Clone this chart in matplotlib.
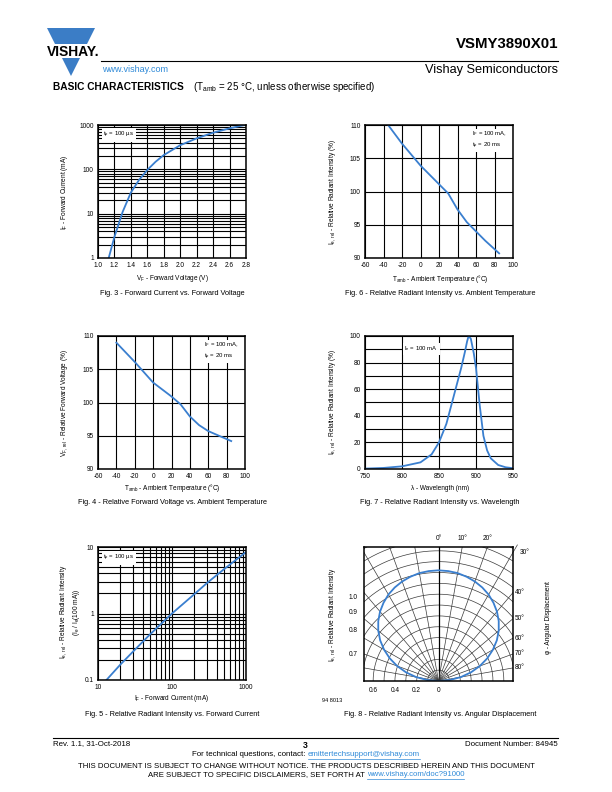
import numpy as np
import matplotlib
matplotlib.use("Agg")
import matplotlib.pyplot as plt
from matplotlib.patches import Polygon, Rectangle
from matplotlib.lines import Line2D
from matplotlib.ticker import LogLocator, NullFormatter, MultipleLocator

plt.rcParams['font.family'] = ['Liberation Sans', 'DejaVu Sans']
plt.rcParams['mathtext.fontset'] = 'custom'
plt.rcParams['mathtext.rm'] = 'Liberation Sans'
plt.rcParams['mathtext.it'] = 'Liberation Sans:italic'
plt.rcParams['mathtext.bf'] = 'Liberation Sans:bold'
plt.rcParams['axes.unicode_minus'] = False

# ---- data ----
# Fig. 3  forward current vs forward voltage
vf = [1.13, 1.2, 1.3, 1.4, 1.5, 1.6, 1.7, 1.8, 2.0, 2.2, 2.4, 2.6, 2.78]
i_f = [1, 3, 11, 30, 58, 97, 148, 210, 350, 500, 670, 840, 1000]

# Fig. 6  relative radiant intensity vs ambient temperature
t6 = [-35, -20, 0, 20, 30, 40, 50, 60, 70, 85]
ie6 = [110, 107.2, 103.9, 101.1, 99.7, 97.3, 95.4, 94.0, 92.6, 90.7]

# Fig. 4  relative forward voltage vs ambient temperature
t4 = [-40, -20, 0, 20, 30, 40, 50, 60, 70, 85]
vf4 = [109, 106.1, 103.0, 100.9, 99.7, 97.9, 96.6, 95.7, 95.1, 94.2]

# Fig. 7  relative radiant intensity vs wavelength
wl = [750, 775, 800, 825, 840, 850, 860, 870, 880, 885, 888, 890, 893,
      897, 900, 905, 910, 915, 920, 930, 940, 950]
ie7 = [0.3, 0.8, 2, 5, 11, 20, 34, 55, 76, 88, 96, 100, 98,
       87, 76, 48, 25, 14, 8, 3, 1.3, 0.6]

# Fig. 5  relative radiant intensity vs forward current
if5 = [13, 20, 30, 50, 100, 200, 300, 500, 1000]
ie5 = [0.1, 0.17, 0.27, 0.48, 1.0, 1.95, 2.9, 4.6, 8.4]

# Fig. 8  relative radiant intensity vs angular displacement
phi = [0, 5, 10, 15, 20, 25, 30, 35, 40, 45, 50, 55, 60, 65, 70, 75, 80, 85, 90]
ie8 = [1.02, 1.017, 1.01, 0.995, 0.976, 0.951, 0.92, 0.88, 0.835, 0.782,
       0.722, 0.654, 0.577, 0.494, 0.404, 0.309, 0.209, 0.105, 0.0]
phi_labels = [0, 10, 20, 30, 40, 50, 60, 70, 80]
r_labels = ['1.0', '0.9', '0.8', '0.7']

BLUE = '#3a7fcf'
LINK = '#2f8ad8'
W, H = 612, 792
fig = plt.figure(figsize=(W / 100, H / 100), dpi=100)
renderer = fig.canvas.get_renderer()


def box(x0, y0, x1, y1):
    return [x0 / W, 1 - y1 / H, (x1 - x0) / W, (y1 - y0) / H]


def txt(x, y, s, **kw):
    kw.setdefault('fontsize', 4.7)
    kw.setdefault('ha', 'center')
    kw.setdefault('va', 'center')
    return fig.text(x / W, 1 - y / H, s, **kw)


def hline(x0, x1, y, lw=0.8, color='black'):
    fig.add_artist(Line2D([x0 / W, x1 / W], [1 - y / H] * 2, color=color, lw=lw))


def run(xc, y, pieces, fs):
    # a line of text made of pieces (text, is_link), centred at xc
    widths = []
    for s, _ in pieces:
        t = txt(0, y, s, fontsize=fs, ha='left')
        widths.append(t.get_window_extent(renderer).width)
        t.remove()
    x = xc - sum(widths) / 2
    for (s, link), w in zip(pieces, widths):
        txt(x, y, s, fontsize=fs, ha='left', color=LINK if link else 'black')
        if link:
            hline(x, x + w, y + 3.5, lw=0.5, color=LINK)
        x += w


def style(ax):
    for sp in ax.spines.values():
        sp.set_linewidth(1.1)
    ax.tick_params(which='both', length=0, labelsize=4.7, pad=3)
    ax.grid(True, which='both', color='black', lw=0.8)
    ax.set_axisbelow(True)


def note(ax, x, y, s, ha='left'):
    ax.text(x, y, s, transform=ax.transAxes, fontsize=4.3, ha=ha, va='top',
            linespacing=1.3, bbox=dict(fc='white', ec='none', pad=1.2))


# ---- header ----
tri = [(47, 28), (95, 28), (71, 76)]
fig.add_artist(Polygon([(x / W, 1 - y / H) for x, y in tri], closed=True,
                       transform=fig.transFigure, fc='#3b7dc6', ec='none'))
fig.add_artist(Rectangle((40 / W, 1 - 58 / H), 65 / W, 14 / H,
                         transform=fig.transFigure, fc='white', ec='none'))
txt(47, 51.5, 'VISHAY.', ha='left', fontsize=10, weight='bold')
hline(101, 558, 61)
txt(558, 44, 'VSMY3890X01', ha='right', fontsize=10.8, weight='bold')
txt(102, 69, 'www.vishay.com', ha='left', fontsize=6.5, color=LINK)
txt(558, 70, 'Vishay Semiconductors', ha='right', fontsize=9.2)
txt(53, 87, 'BASIC CHARACTERISTICS', ha='left', fontsize=7.3, weight='bold')
txt(193, 87, r'(T$_\mathrm{amb}$ = 25 °C, unless otherwise specified)',
    ha='left', fontsize=7)

# ---- Fig. 3 ----
ax3 = fig.add_axes(box(98, 125, 246, 258))
ax3.semilogy(vf, i_f, color=BLUE, lw=1.3)
ax3.set_xlim(1.0, 2.8)
ax3.set_ylim(1, 1000)
ax3.set_xticks([1.0, 1.2, 1.4, 1.6, 1.8, 2.0, 2.2, 2.4, 2.6, 2.8])
ax3.xaxis.set_major_formatter(lambda v, p: '%.1f' % v)
ax3.set_yticks([1, 10, 100, 1000], labels=['1', '10', '100', '1000'])
ax3.yaxis.set_minor_locator(LogLocator(subs=range(2, 10)))
ax3.yaxis.set_minor_formatter(NullFormatter())
style(ax3)
note(ax3, 0.035, 0.965, r't$_\mathrm{p}$ = 100 µs')
txt(65, 192, r'I$_\mathrm{F}$ - Forward Current (mA)', rotation=90)
txt(172, 279, r'V$_\mathrm{F}$ - Forward Voltage (V)')
txt(172, 293, 'Fig. 3 - Forward Current vs. Forward Voltage', fontsize=5.3)

# ---- Fig. 6 ----
ax6 = fig.add_axes(box(365, 125, 513, 258))
ax6.plot(t6, ie6, color=BLUE, lw=1.3)
ax6.set_xlim(-60, 100)
ax6.set_ylim(90, 110)
ax6.xaxis.set_major_locator(MultipleLocator(20))
ax6.yaxis.set_major_locator(MultipleLocator(5))
style(ax6)
note(ax6, 0.72, 0.965, 'I$_\\mathrm{F}$ = 100 mA,\nt$_\\mathrm{p}$ = 20 ms')
txt(333, 192, r'I$_\mathrm{e,\ rel}$ - Relative Radiant Intensity (%)', rotation=90)
txt(440, 279, r'T$_\mathrm{amb}$ - Ambient Temperature (°C)')
txt(440, 293, 'Fig. 6 - Relative Radiant Intensity vs. Ambient Temperature', fontsize=5.3)

# ---- Fig. 4 ----
ax4 = fig.add_axes(box(98, 336, 245, 469))
ax4.plot(t4, vf4, color=BLUE, lw=1.3)
ax4.set_xlim(-60, 100)
ax4.set_ylim(90, 110)
ax4.xaxis.set_major_locator(MultipleLocator(20))
ax4.yaxis.set_major_locator(MultipleLocator(5))
style(ax4)
note(ax4, 0.72, 0.965, 'I$_\\mathrm{F}$ = 100 mA,\nt$_\\mathrm{p}$ = 20 ms')
txt(65, 403, r'V$_\mathrm{F,\ rel}$ - Relative Forward Voltage (%)', rotation=90)
txt(172, 488, r'T$_\mathrm{amb}$ - Ambient Temperature (°C)')
txt(172, 502, 'Fig. 4 - Relative Forward Voltage vs. Ambient Temperature', fontsize=5.3)

# ---- Fig. 7 ----
ax7 = fig.add_axes(box(365, 336, 513, 469))
ax7.plot(wl, ie7, color=BLUE, lw=1.3)
ax7.set_xlim(750, 950)
ax7.set_ylim(0, 100)
ax7.xaxis.set_major_locator(MultipleLocator(50))
ax7.yaxis.set_major_locator(MultipleLocator(20))
ax7.yaxis.set_minor_locator(MultipleLocator(10))
style(ax7)
ax7.text(0.38, 0.905, r'I$_\mathrm{e}$ = 100 mA', transform=ax7.transAxes,
         fontsize=4.3, ha='center', va='center',
         bbox=dict(fc='white', ec='none', pad=1.2))
txt(333, 402, r'I$_\mathrm{e,\ rel}$ - Relative Radiant Intensity (%)', rotation=90)
txt(440, 488, 'λ - Wavelength (nm)')
txt(440, 502, 'Fig. 7 - Relative Radiant Intensity vs. Wavelength', fontsize=5.3)

# ---- Fig. 5 ----
ax5 = fig.add_axes(box(98, 547, 246, 680))
ax5.loglog(if5, ie5, color=BLUE, lw=1.3)
ax5.set_xlim(10, 1000)
ax5.set_ylim(0.1, 10)
ax5.set_xticks([10, 100, 1000], labels=['10', '100', '1000'])
ax5.set_yticks([0.1, 1, 10], labels=['0.1', '1', '10'])
for a in (ax5.xaxis, ax5.yaxis):
    a.set_minor_locator(LogLocator(subs=range(2, 10)))
    a.set_minor_formatter(NullFormatter())
style(ax5)
note(ax5, 0.035, 0.955, r't$_\mathrm{p}$ = 100 µs')
txt(70, 612, 'I$_\\mathrm{e,\\ rel}$ - Relative Radiant Intensity\n'
    '(I$_\\mathrm{e}$ / I$_\\mathrm{e}$(100 mA))', rotation=90, linespacing=1.25)
txt(172, 699, r'I$_\mathrm{F}$ - Forward Current (mA)')
txt(172, 714, 'Fig. 5 - Relative Radiant Intensity vs. Forward Current', fontsize=5.3)

# ---- Fig. 8 (polar diagram) ----
ax8 = fig.add_axes(box(364, 547, 513, 681))
xm, ym = 0.684, 1.235
ax8.set_xlim(-xm, xm)
ax8.set_ylim(0, ym)
t = np.linspace(0, np.pi, 300)
for r in np.arange(0.1, 1.45, 0.1):
    ax8.plot(r * np.cos(t), r * np.sin(t), color='#3a3a3a', lw=0.5)
for a in range(-80, 90, 10):
    ar = np.radians(a)
    ax8.plot([0, 2 * np.sin(ar)], [0, 2 * np.cos(ar)],
             color='black' if a == 0 else '#3a3a3a', lw=0.9 if a == 0 else 0.5)
# the 30 degree ray runs a little past the frame toward its label
a30 = np.radians(30)
ax8.plot([xm, xm + 0.04], [xm / np.tan(a30), (xm + 0.04) / np.tan(a30)],
         color='#3a3a3a', lw=0.5, clip_on=False)
th = np.radians(np.r_[-np.array(phi[::-1]), np.array(phi[1:])])
rr = np.r_[np.array(ie8[::-1]), np.array(ie8[1:])]
ax8.plot(rr * np.sin(th), rr * np.cos(th), color=BLUE, lw=1.3)
for sp in ax8.spines.values():
    sp.set_linewidth(1.1)
ax8.set_yticks([])
ax8.set_xticks([-0.6, -0.4, -0.2, 0], labels=['0.6', '0.4', '0.2', '0'])
ax8.tick_params(length=0, labelsize=4.7, pad=4)
for a in phi_labels:
    ar = np.radians(a)
    if a == 0 or ym * np.tan(ar) <= xm:
        ax8.text(ym * np.tan(ar) if a else 0, ym + 0.075, '%d°' % a,
                 fontsize=4.7, ha='center', va='center')
    else:
        ax8.text(xm + (0.06 if a == 30 else 0.015), xm / np.tan(ar), '%d°' % a,
                 fontsize=4.7, ha='left', va='center')
for s, y in zip(r_labels, [597.7, 613, 630, 655]):
    txt(358, y, s, ha='right')
txt(333, 615, r'I$_\mathrm{e,\ rel}$ - Relative Radiant Intensity', rotation=90)
txt(548, 618, 'φ - Angular Displacement', rotation=90)
txt(322, 701, '94 8013', ha='left', fontsize=4)
txt(440, 714, 'Fig. 8 - Relative Radiant Intensity vs. Angular Displacement', fontsize=5.3)

# ---- footer ----
hline(53, 558, 738)
txt(53, 744, 'Rev. 1.1, 31-Oct-2018', ha='left', fontsize=5.7)
txt(305, 745, '3', fontsize=6.2, weight='bold')
txt(558, 744, 'Document Number: 84945', ha='right', fontsize=5.7)
run(306, 755, [('For technical questions, contact: ', False),
               ('emittertechsupport@vishay.com', True)], 5.7)
run(306, 766, [('THIS DOCUMENT IS SUBJECT TO CHANGE WITHOUT NOTICE. THE PRODUCTS '
                'DESCRIBED HEREIN AND THIS DOCUMENT', False)], 5.6)
run(306, 775, [('ARE SUBJECT TO SPECIFIC DISCLAIMERS, SET FORTH AT ', False),
               ('www.vishay.com/doc?91000', True)], 5.6)

fig.savefig('out.png', dpi=100)
